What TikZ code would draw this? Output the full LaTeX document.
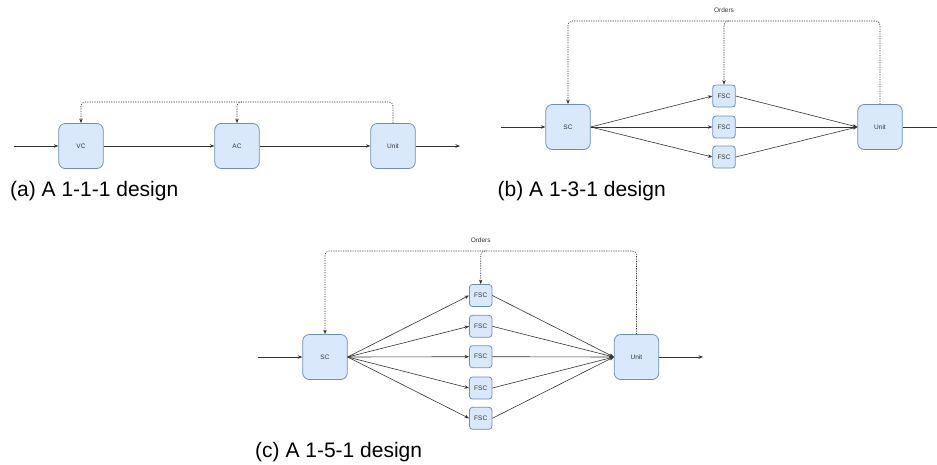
\documentclass[tikz,border=0pt]{standalone}
\usepackage{fontspec}
\setmainfont{Liberation Sans}
\usetikzlibrary{arrows.meta}
\definecolor{boxfill}{HTML}{DAE8FC}
\definecolor{boxline}{HTML}{6C8EBF}
\definecolor{linec}{HTML}{333333}
\definecolor{txtc}{HTML}{333333}
\tikzset{
  bigbox/.style={draw=boxline, fill=boxfill, line width=0.8pt, rounded corners=6.5pt,
    minimum width=44.5pt, minimum height=45pt, inner sep=0pt,
    font=\fontsize{6.5}{7}\selectfont, text=txtc},
  smallbox/.style={draw=boxline, fill=boxfill, line width=0.8pt, rounded corners=3pt,
    minimum width=22.5pt, minimum height=22pt, inner sep=0pt,
    font=\fontsize{6.5}{7}\selectfont, text=txtc},
  flow/.style={draw=linec, line width=0.6pt, -{Stealth[length=4.5pt,width=3.5pt]}},
  plain/.style={draw=linec, line width=0.6pt},
  order/.style={draw=linec, line width=0.6pt, dash pattern=on 1.2pt off 1.2pt,
    rounded corners=4pt, -{Stealth[length=4.5pt,width=3.5pt]}},
  orderlbl/.style={font=\fontsize{6.5}{7}\selectfont, text=txtc, inner sep=0pt},
  caption/.style={font=\fontsize{21}{24}\selectfont, inner sep=0pt, anchor=base west}
}
\begin{document}
\begin{tikzpicture}[x=1pt,y=-1pt]
\useasboundingbox (0,0) rectangle (937,464);

% ---------- (a) ----------
\node[bigbox] (vc) at (81,146) {VC};
\node[bigbox] (ac) at (237,146) {AC};
\node[bigbox] (ua) at (393,146) {Unit};
\coordinate (ina) at (14,146);
\coordinate (outa) at (460,146);
\coordinate (forka) at ([xshift=5pt]ac.north |- 0,102);
\draw[flow] (ina) -- (vc.west);
\draw[flow] (vc.east) -- (ac.west);
\draw[flow] (ac.east) -- (ua.west);
\draw[flow] (ua.east) -- (outa);
\draw[order] (ua.north) -- (ua.north |- 0,102) -- (ac.north |- 0,102) -- (ac.north);
\draw[order] (forka) -- (vc.north |- 0,102) -- (vc.north);
\node[caption] (capa) at (10,196.5) {(a) A 1-1-1 design};

% ---------- (b) ----------
\node[bigbox] (scb) at (568,127) {SC};
\node[smallbox] (fb1) at (724,96) {FSC};
\node[smallbox] (fb2) at (724,127) {FSC};
\node[smallbox] (fb3) at (724,157) {FSC};
\node[bigbox] (ub) at (880,127) {Unit};
\coordinate (inb) at (501,127);
\coordinate (outb) at (937,127);
\coordinate (forkb) at ([xshift=5pt]fb1.north |- 0,21);
\draw[flow] (inb) -- (scb.west);
\foreach \f in {fb1,fb2,fb3}{
  \draw[flow] (scb.east) -- (\f.west);
  \draw[flow] (\f.east) -- (ub.west);
}
\draw[plain] (ub.east) -- (outb);
\node[orderlbl] (ordb) at (724,10) {Orders};
\draw[order] (ub.north) -- (ub.north |- 0,21) -- (fb1.north |- 0,21) -- (fb1.north);
\draw[order] (forkb) -- (scb.north |- 0,21) -- (scb.north);
\node[caption] (capb) at (497.5,196.5) {(b) A 1-3-1 design};

% ---------- (c) ----------
\node[bigbox] (scc) at (325,357) {SC};
\node[smallbox] (fc1) at (480.7,295.5) {FSC};
\node[smallbox] (fc2) at (480.7,326.3) {FSC};
\node[smallbox] (fc3) at (480.7,356.7) {FSC};
\node[smallbox] (fc4) at (480.7,388) {FSC};
\node[smallbox] (fc5) at (480.7,418.3) {FSC};
\node[bigbox] (uc) at (636.5,357) {Unit};
\coordinate (inc) at (258,357);
\coordinate (outc) at (703,357);
\coordinate (forkc) at ([xshift=5pt]fc1.north |- 0,251);
\draw[flow] (inc) -- (scc.west);
\foreach \f in {fc1,fc2,fc3,fc4,fc5}{
  \draw[flow] (scc.east) -- (\f.west);
  \draw[flow] (\f.east) -- (uc.west);
}
\draw[flow] (uc.east) -- (outc);
\node[orderlbl] (ordc) at (480.7,240) {Orders};
\draw[order] (uc.north) -- (uc.north |- 0,251) -- (fc1.north |- 0,251) -- (fc1.north);
\draw[order] (forkc) -- (scc.north |- 0,251) -- (scc.north);
\node[caption] (capc) at (255,457.5) {(c) A 1-5-1 design};
\end{tikzpicture}
\end{document}
